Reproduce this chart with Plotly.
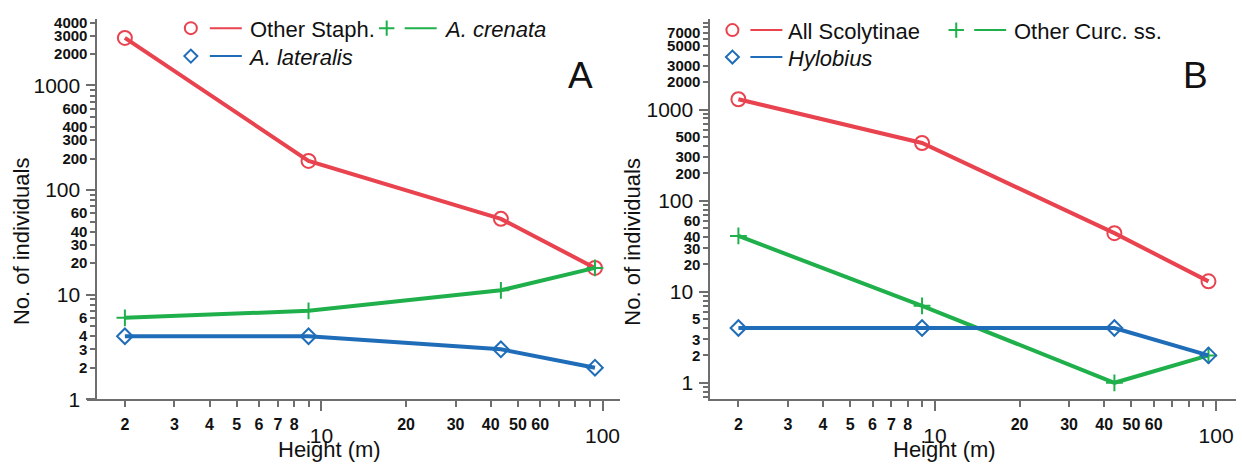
import plotly.graph_objects as go

W, H = 1242, 468

# ---------------- data ----------------
HEIGHTS = [2, 9, 43.5, 94]

A_OTHER_STAPH = [2850, 190, 53, 18]
A_CRENATA = [6, 7, 11, 18]
A_LATERALIS = [4, 4, 3, 2]

B_SCOLYTINAE = [1300, 430, 44, 13]
B_OTHER_CURC = [41, 7, 1, 2]
B_HYLOBIUS = [4, 4, 4, 2]

X_SMALL = [2, 3, 4, 5, 6, 7, 8, 20, 30, 40, 50, 60]
X_BIG = [10, 100]
X_MINOR = [9, 70, 80, 90]

Y_BIG = [1, 10, 100, 1000]
A_Y_SMALL = [2, 3, 4, 6, 20, 30, 40, 60, 200, 300, 400, 600, 2000, 3000, 4000]
A_Y_MINOR = [5, 7, 8, 9, 50, 70, 80, 90, 500, 700, 800, 900]
B_Y_SMALL = [2, 3, 5, 20, 30, 40, 60, 200, 300, 500, 2000, 3000, 5000, 7000]
B_Y_MINOR = [0.7, 0.8, 0.9, 4, 6, 7, 8, 9, 50, 70, 80, 90, 400, 600, 700, 800,
             900, 4000, 6000, 8000, 9000, 10000]

# ---------------- style ----------------
RED = "#E8434F"
GREEN = "#20B04B"
BLUE = "#1F6DB9"
AXIS = "#6E6E6E"
FONT = "Liberation Sans, Arial, Helvetica, sans-serif"
X_SMALL_FS = 16
Y_SMALL_FS = 15
BIG_FS = 21

# panel geometry (pixels)
A_X0, A_X1, A_YAX = 87, 620, 96.5
B_X0, B_X1 = 711, 1237
Y_TOP, Y_BOT = 14, 408
A_XRANGE = [0.166, 2.0604]
B_XRANGE = [0.2015, 2.071]
A_YRANGE = [0.0, 3.631]
B_YRANGE = [-0.18, 3.99]

ydom = [(H - Y_BOT) / H, (H - Y_TOP) / H]

fig = go.Figure()


def series(x, y, color, symbol, size, xa, ya):
    fig.add_trace(go.Scatter(
        x=x, y=y, mode="lines+markers", xaxis=xa, yaxis=ya,
        line=dict(color=color, width=4),
        marker=dict(symbol=symbol, size=size, color=color,
                    line=dict(color=color, width=2)),
        showlegend=False, hoverinfo="skip", cliponaxis=False))


series(HEIGHTS, A_OTHER_STAPH, RED, "circle-open", 14, "x", "y")
series(HEIGHTS, A_CRENATA, GREEN, "cross-thin-open", 12, "x", "y")
series(HEIGHTS, A_LATERALIS, BLUE, "diamond-open", 12, "x", "y")

series(HEIGHTS, B_SCOLYTINAE, RED, "circle-open", 14, "x2", "y2")
series(HEIGHTS, B_OTHER_CURC, GREEN, "cross-thin-open", 12, "x2", "y2")
series(HEIGHTS, B_HYLOBIUS, BLUE, "diamond-open", 12, "x2", "y2")

# dummy traces for overlay axes carrying the large tick labels
for xa, ya in (("x3", "y3"), ("x4", "y4")):
    fig.add_trace(go.Scatter(x=[None], y=[None], xaxis=xa, yaxis=ya,
                             showlegend=False, hoverinfo="skip"))


def xaxis_small(domain, rng, anchor):
    return dict(type="log", domain=domain, range=rng, anchor=anchor,
                showline=True, linecolor=AXIS, linewidth=2, showgrid=False,
                zeroline=False, tickmode="array", tickvals=X_SMALL,
                ticktext=[str(v) for v in X_SMALL], ticks="outside",
                ticklen=6, tickwidth=1.5, tickcolor=AXIS, ticklabelstandoff=4,
                tickfont=dict(family=FONT, size=X_SMALL_FS, color="#111", weight="bold"),
                minor=dict(tickmode="array", tickvals=X_MINOR, ticks="outside",
                           ticklen=6, tickwidth=1.5, tickcolor=AXIS, showgrid=False))


def xaxis_big(domain, rng, anchor, over):
    return dict(type="log", domain=domain, range=rng, anchor=anchor,
                overlaying=over, showline=False, showgrid=False, zeroline=False,
                tickmode="array", tickvals=X_BIG, ticktext=[str(v) for v in X_BIG],
                ticks="outside", ticklen=11, tickwidth=1.5, tickcolor=AXIS,
                ticklabelstandoff=7,
                tickfont=dict(family=FONT, size=BIG_FS, color="#111"))


def yaxis_small(rng, smalls, minors, **kw):
    return dict(type="log", domain=ydom, range=rng,
                showline=True, linecolor=AXIS, linewidth=2, showgrid=False,
                zeroline=False, tickmode="array", tickvals=smalls,
                ticktext=[str(v) for v in smalls], ticks="outside",
                ticklen=5, tickwidth=1.5, tickcolor=AXIS,
                tickfont=dict(family=FONT, size=Y_SMALL_FS, color="#111", weight="bold"),
                minor=dict(tickmode="array", tickvals=minors, ticks="outside",
                           ticklen=5, tickwidth=1.5, tickcolor=AXIS, showgrid=False),
                **kw)


def yaxis_big(rng, over, **kw):
    return dict(type="log", domain=ydom, range=rng, overlaying=over,
                showline=False, showgrid=False, zeroline=False,
                tickmode="array", tickvals=Y_BIG, ticktext=[str(v) for v in Y_BIG],
                ticks="outside", ticklen=10, tickwidth=1.5, tickcolor=AXIS,
                ticklabelstandoff=2,
                tickfont=dict(family=FONT, size=BIG_FS, color="#111"), **kw)


A_DOM = [A_X0 / W, A_X1 / W]
B_DOM = [B_X0 / W, B_X1 / W]

fig.update_layout(
    width=W, height=H, margin=dict(l=0, r=0, t=0, b=0),
    paper_bgcolor="white", plot_bgcolor="rgba(0,0,0,0)",
    font=dict(family=FONT, color="#111"),
    showlegend=False,
    xaxis=xaxis_small(A_DOM, A_XRANGE, "y"),
    yaxis=yaxis_small(A_YRANGE, A_Y_SMALL, A_Y_MINOR, anchor="free", position=A_YAX / W),
    xaxis3=xaxis_big(A_DOM, A_XRANGE, "y", "x"),
    yaxis3=yaxis_big(A_YRANGE, "y", anchor="free", position=A_YAX / W),
    xaxis2=xaxis_small(B_DOM, B_XRANGE, "y2"),
    yaxis2=yaxis_small(B_YRANGE, B_Y_SMALL, B_Y_MINOR, anchor="x2"),
    xaxis4=xaxis_big(B_DOM, B_XRANGE, "y2", "x2"),
    yaxis4=yaxis_big(B_YRANGE, "y2", anchor="x2"),
    xaxis5=dict(domain=[0, 1], range=[0, W], visible=False, anchor="y5"),
    yaxis5=dict(domain=[0, 1], range=[H, 0], visible=False, anchor="x5"),
)

# ---------------- legends (manual, pixel layout) ----------------
LEGEND_ITEMS = [
    # symbol, size, color, marker_x, y, line_x0, line_x1, text_x, text
    ("circle-open", 12, RED, 191, 23, 210, 242, 248, "Other Staph."),
    ("cross-thin-open", 11, GREEN, 387, 23, 405, 437, 442, "<i>A. crenata</i>"),
    ("diamond-open", 10, BLUE, 191, 52, 210, 242, 246, "<i>A. lateralis</i>"),
    ("circle-open", 12, RED, 733, 25, 751, 783, 787, "All Scolytinae"),
    ("cross-thin-open", 11, GREEN, 957, 25, 975, 1007, 1013, "Other Curc. ss."),
    ("diamond-open", 10, BLUE, 733, 53, 751, 783, 787, "<i>Hylobius</i>"),
]
for sym, sz, col, mx, y, lx0, lx1, tx, txt in LEGEND_ITEMS:
    fig.add_trace(go.Scatter(x=[mx], y=[y], mode="markers", xaxis="x5", yaxis="y5",
                             marker=dict(symbol=sym, size=sz, color=col,
                                         line=dict(color=col, width=2)),
                             showlegend=False, hoverinfo="skip"))
    fig.add_trace(go.Scatter(x=[lx0, lx1], y=[y, y], mode="lines", xaxis="x5", yaxis="y5",
                             line=dict(color=col, width=2),
                             showlegend=False, hoverinfo="skip"))
    fig.add_annotation(x=tx / W, y=(H - y - 1) / H, xref="paper", yref="paper",
                       text=txt, showarrow=False, xanchor="left", yanchor="middle",
                       font=dict(family=FONT, size=22, color="#111"))

# ---------------- titles & panel letters ----------------
for xc, txt in ((21, "No. of individuals"), (633, "No. of individuals")):
    fig.add_annotation(x=xc / W, y=(H - 244) / H, xref="paper", yref="paper",
                       text=txt, textangle=-90, showarrow=False,
                       xanchor="center", yanchor="middle",
                       font=dict(family=FONT, size=22, color="#111"))
for xc, txt in ((330, "Height (m)"), (945, "Height (m)")):
    fig.add_annotation(x=xc / W, y=(H - 460) / H, xref="paper", yref="paper",
                       text=txt, showarrow=False, xanchor="center", yanchor="middle",
                       font=dict(family=FONT, size=22, color="#111"))
for xc, txt in ((581, "A"), (1196, "B")):
    fig.add_annotation(x=xc / W, y=(H - 72) / H, xref="paper", yref="paper",
                       text=txt, showarrow=False, xanchor="center", yanchor="middle",
                       font=dict(family=FONT, size=37, color="#111"))

fig.write_html("out.html")
